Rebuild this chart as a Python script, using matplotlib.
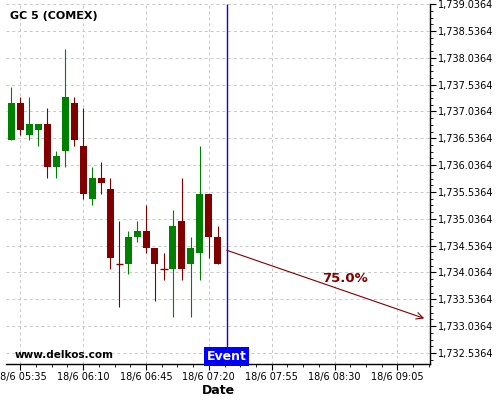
import numpy as np
import matplotlib
matplotlib.use("Agg")
from matplotlib import pyplot as plt
from matplotlib.ticker import FixedLocator, AutoMinorLocator, FuncFormatter

# ローソク足データ (5分足, 18/6 05:30 から)
start_time = "05:30"
opens  = [1736.5, 1737.2, 1736.6, 1736.7, 1736.8, 1736.0, 1736.3, 1737.2,
          1736.4, 1735.4, 1735.8, 1735.6, 1734.2, 1734.2, 1734.7, 1734.8,
          1734.5, 1734.1, 1734.1, 1735.0, 1734.2, 1734.4, 1735.5, 1734.7]
highs  = [1737.5, 1737.3, 1737.3, 1736.8, 1737.1, 1736.3, 1738.2, 1737.3,
          1737.1, 1736.0, 1736.1, 1735.8, 1735.0, 1734.8, 1735.0, 1735.3,
          1734.5, 1734.4, 1735.2, 1735.8, 1734.7, 1736.4, 1735.5, 1734.9]
lows   = [1736.5, 1736.6, 1736.5, 1736.4, 1735.8, 1735.8, 1736.0, 1736.4,
          1735.4, 1735.3, 1735.5, 1734.1, 1733.4, 1734.0, 1734.6, 1734.4,
          1733.5, 1733.9, 1733.2, 1733.9, 1733.2, 1733.9, 1734.3, 1734.2]
closes = [1737.2, 1736.7, 1736.8, 1736.8, 1736.0, 1736.2, 1737.3, 1736.5,
          1735.5, 1735.8, 1735.7, 1734.3, 1734.2, 1734.7, 1734.8, 1734.5,
          1734.2, 1734.1, 1734.9, 1734.1, 1734.5, 1735.5, 1734.7, 1734.2]

# イベントと予測矢印
event_time = "07:30"
arrow_start = ("07:30", 1734.45)
arrow_end = ("09:20", 1733.18)
arrow_label = "75.0%"
label_pos = ("08:36", 1733.93)

x_tick_labels = ["05:35", "06:10", "06:45", "07:20", "07:55", "08:30", "09:05"]
title = "GC 5 (COMEX)"
watermark = "www.delkos.com"


def to_min(s):
    h, m = s.split(":")
    return int(h) * 60 + int(m)


green = "#008000"
red = "#800000"

fig = plt.figure(figsize=(5, 4), dpi=100)
ax = fig.add_axes([0.012, 0.09, 0.848, 0.90])

t0 = to_min(start_time)
xs = np.array([t0 + 5 * i for i in range(len(opens))])
for x, o, h, l, c in zip(xs, opens, highs, lows, closes):
    col = green if c > o else red
    ax.vlines(x, l, h, color=col, linewidth=0.8, zorder=3)
    if abs(c - o) < 1e-9:
        ax.hlines(o, x - 2, x + 2, color=col, linewidth=1.0, zorder=3)
    else:
        ax.bar(x, abs(c - o), bottom=min(o, c), width=3.9, color=col,
               linewidth=0, zorder=4)

ymin, ymax = 1732.33, 1739.04
ax.set_xlim(to_min("05:27"), to_min("09:23") + 0.2)
ax.set_ylim(ymin, ymax)

# イベント線
ev = to_min(event_time)
ax.vlines(ev, ymin + 0.3, ymax, color="#0000ff", linewidth=1.0, zorder=5)
ax.text(ev, ymin + 0.02, "Event", ha="center", va="bottom", color="white",
        fontsize=9, fontweight="bold", zorder=6,
        bbox=dict(boxstyle="square,pad=0.22", fc="#0000ff", ec="none"))

# 予測矢印
ax.annotate("", xy=(to_min(arrow_end[0]), arrow_end[1]),
            xytext=(to_min(arrow_start[0]), arrow_start[1]),
            arrowprops=dict(arrowstyle="->", color=red, lw=0.8,
                            mutation_scale=12, shrinkA=0, shrinkB=0), zorder=5)
ax.text(to_min(label_pos[0]), label_pos[1], arrow_label, ha="center", va="center",
        color=red, fontsize=9.5, fontweight="bold", zorder=6)

ax.text(0.0094, 0.967, title, transform=ax.transAxes, ha="left", va="center",
        fontsize=8, fontweight="bold")
ax.text(0.021, 0.025, watermark, transform=ax.transAxes, ha="left", va="center",
        fontsize=7.5, fontweight="bold")

# 軸の設定
ax.xaxis.set_major_locator(FixedLocator([to_min(s) for s in x_tick_labels]))
ax.xaxis.set_minor_locator(AutoMinorLocator(4))
ax.xaxis.set_major_formatter(FuncFormatter(
    lambda v, p: "18/6 %02d:%02d" % (int(round(v)) // 60, int(round(v)) % 60)))
y_ticks = np.arange(1732.5364, 1739.05, 0.5)
ax.yaxis.set_major_locator(FixedLocator(y_ticks))
ax.yaxis.set_minor_locator(AutoMinorLocator(4))
ax.yaxis.set_major_formatter(FuncFormatter(lambda v, p: "{:,.4f}".format(v)))
ax.yaxis.tick_right()

ax.tick_params(axis="both", which="major", labelsize=7, length=4, width=0.8, pad=2)
ax.tick_params(axis="both", which="minor", length=2, width=0.6)
ax.tick_params(axis="y", which="both", left=False)

for side in ["top", "left"]:
    ax.spines[side].set_visible(False)
ax.spines["right"].set_linewidth(1.0)
ax.spines["bottom"].set_linewidth(1.0)

ax.grid(True, which="major", color="#c8c8c8", linestyle=(0, (3, 3)), linewidth=0.7)
ax.set_axisbelow(True)
ax.set_xlabel("Date", fontsize=9, fontweight="bold", labelpad=1)

plt.savefig("out.png", dpi=100)
